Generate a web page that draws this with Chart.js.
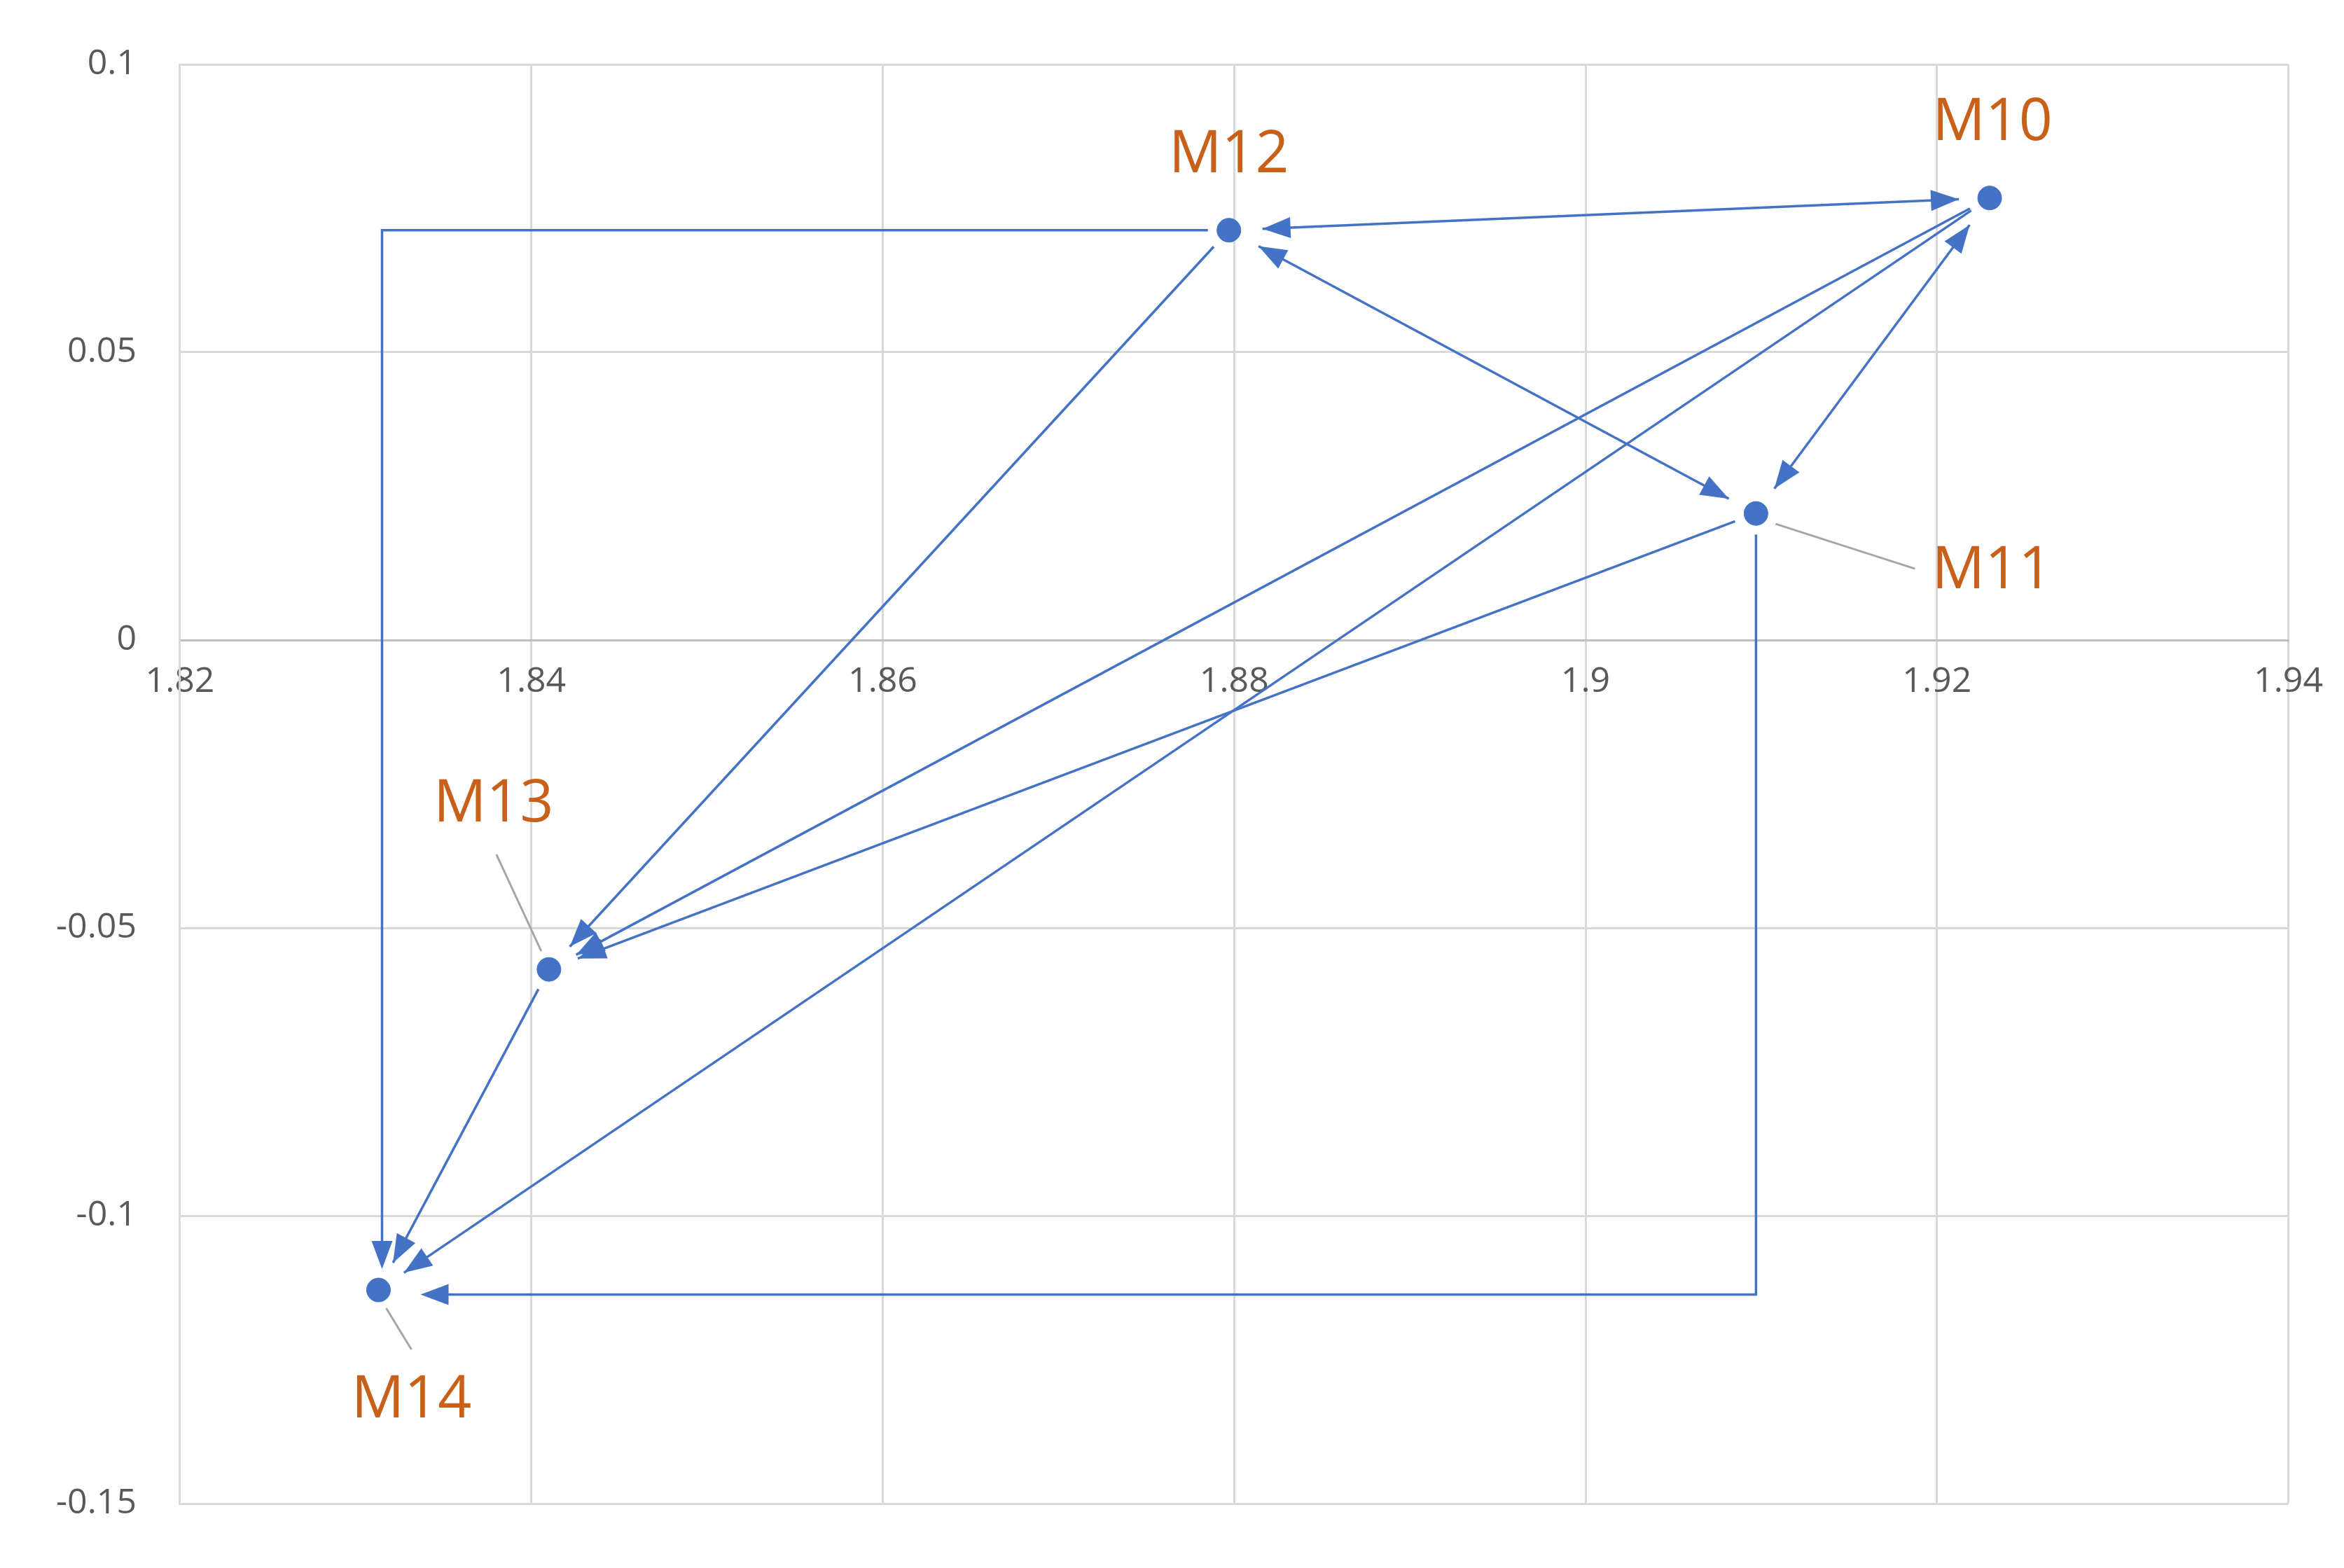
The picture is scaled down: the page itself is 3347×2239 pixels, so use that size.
<!DOCTYPE html>
<html><head><meta charset="utf-8">
<script src="https://cdn.jsdelivr.net/npm/chart.js@4/dist/chart.umd.min.js"></script>
<style>html,body{margin:0;padding:0;background:#fff}#wrap{width:3347px;height:2239px}</style>
</head><body><div id="wrap"><canvas id="c" width="3347" height="2239"></canvas></div>
<script>
const names = ["M10","M11","M12","M13","M14"];
const xs = [1.923, 1.9097, 1.8797, 1.841, 1.8313];
const ys = [0.0768, 0.022, 0.0712, -0.0572, -0.1129];
const edgeFrom = ["M12","M12","M10","M12","M10","M11","M10","M13","M12","M11"];
const edgeTo   = ["M10","M11","M11","M13","M13","M13","M14","M14","M14","M14"];
const edgeBoth = [true, true, true, false,false,false,false,false,false,false];
const edgeElbow= [null, null, null, null, null, null, null, null, "hv","vh"];
const elbowVal = [null, null, null, null, null, null, null, null, 1.8315, -0.1137];
const xTicks = [1.82,1.84,1.86,1.88,1.9,1.92,1.94];
const yTicks = [0.1,0.05,0,-0.05,-0.1,-0.15];
const labelOff = {M10:[4,-107,null],M11:[337,83,[28,15,227,79]],M12:[0,-107,null],M13:[-79,-235,[-11,-26,-75,-164]],M14:[47,158,[11,26,47,85]]};

const BLUE = "#4472C4", ORANGE = "#C8601A";
const idx = n => names.indexOf(n);

function arrowHead(ctx, x1,y1,x2,y2){
  const a = Math.atan2(y2-y1,x2-x1), L=40, W=15;
  ctx.beginPath();
  ctx.moveTo(x2,y2);
  ctx.lineTo(x2-L*Math.cos(a)+W*Math.sin(a), y2-L*Math.sin(a)-W*Math.cos(a));
  ctx.lineTo(x2-L*Math.cos(a)-W*Math.sin(a), y2-L*Math.sin(a)+W*Math.cos(a));
  ctx.closePath(); ctx.fill();
}
function shorten(x1,y1,x2,y2,s1,s2){
  const d=Math.hypot(x2-x1,y2-y1), ux=(x2-x1)/d, uy=(y2-y1)/d;
  return [x1+ux*s1,y1+uy*s1,x2-ux*s2,y2-uy*s2];
}
const overlay = {
  id:"overlay",
  afterDatasetsDraw(chart){
    const ctx=chart.ctx, sx=chart.scales.x, sy=chart.scales.y;
    const P = n => [sx.getPixelForValue(xs[idx(n)]), sy.getPixelForValue(ys[idx(n)])];
    ctx.save();
    ctx.strokeStyle=BLUE; ctx.fillStyle=BLUE; ctx.lineWidth=3.5;
    edgeFrom.forEach((f,i)=>{
      const [ax,ay]=P(f), [bx,by]=P(edgeTo[i]);
      if(edgeElbow[i]==="hv"){
        const ex=sx.getPixelForValue(elbowVal[i]);
        ctx.beginPath(); ctx.moveTo(ax-30,ay); ctx.lineTo(ex,ay); ctx.lineTo(ex,by-40); ctx.stroke();
        arrowHead(ctx,ex,ay,ex,by-30);
      } else if(edgeElbow[i]==="vh"){
        const ey=sy.getPixelForValue(elbowVal[i]);
        ctx.beginPath(); ctx.moveTo(ax,ay+30); ctx.lineTo(ax,ey); ctx.lineTo(bx+70,ey); ctx.stroke();
        arrowHead(ctx,ax,ey,bx+60,ey);
      } else {
        const [x1,y1,x2,y2]=shorten(ax,ay,bx,by,edgeBoth[i]?48:32,44);
        ctx.beginPath(); ctx.moveTo(x1,y1); ctx.lineTo(x2,y2); ctx.stroke();
        arrowHead(ctx,x1,y1,x2,y2);
        if(edgeBoth[i]) arrowHead(ctx,x2,y2,x1,y1);
      }
    });
    ctx.font="84px 'Open Sans', 'Liberation Sans', sans-serif";
    ctx.textAlign="center"; ctx.textBaseline="middle";
    names.forEach(n=>{
      const [px,py]=P(n), o=labelOff[n];
      if(o[2]){
        ctx.strokeStyle="#A6A6A6"; ctx.lineWidth=3;
        ctx.beginPath(); ctx.moveTo(px+o[2][0],py+o[2][1]); ctx.lineTo(px+o[2][2],py+o[2][3]); ctx.stroke();
      }
      ctx.fillStyle=ORANGE; ctx.fillText(n, px+o[0], py+o[1]);
    });
    ctx.restore();
  }
};

const tickFont = {size:50,family:"'Open Sans', 'Liberation Sans', sans-serif"};
new Chart(document.getElementById("c"),{
  type:"scatter",
  data:{datasets:[{data:xs.map((x,i)=>({x,y:ys[i]})),backgroundColor:BLUE,borderColor:BLUE,pointRadius:17,pointHoverRadius:17}]},
  options:{
    responsive:false, devicePixelRatio:1, animation:false,
    layout:{padding:{left:18,right:76,top:73,bottom:51}},
    plugins:{legend:{display:false},tooltip:{enabled:false}},
    scales:{
      x:{type:"linear",position:{y:0},min:1.82,max:1.94,
         afterBuildTicks:s=>{s.ticks=xTicks.map(v=>({value:v}));},
         ticks:{color:"#595959",font:tickFont,padding:30,callback:v=>String(+v.toFixed(2))},
         grid:{color:"#D9D9D9",lineWidth:3,tickLength:0},border:{color:"#BFBFBF",width:3}},
      y:{type:"linear",min:-0.15,max:0.1,
         afterBuildTicks:s=>{s.ticks=yTicks.map(v=>({value:v}));},
         ticks:{color:"#595959",font:tickFont,padding:62,callback:v=>String(+v.toFixed(2))},
         grid:{color:"#D9D9D9",lineWidth:3,tickLength:0},border:{color:"#D9D9D9",width:3}}
    }
  },
  plugins:[overlay]
});
</script></body></html>
